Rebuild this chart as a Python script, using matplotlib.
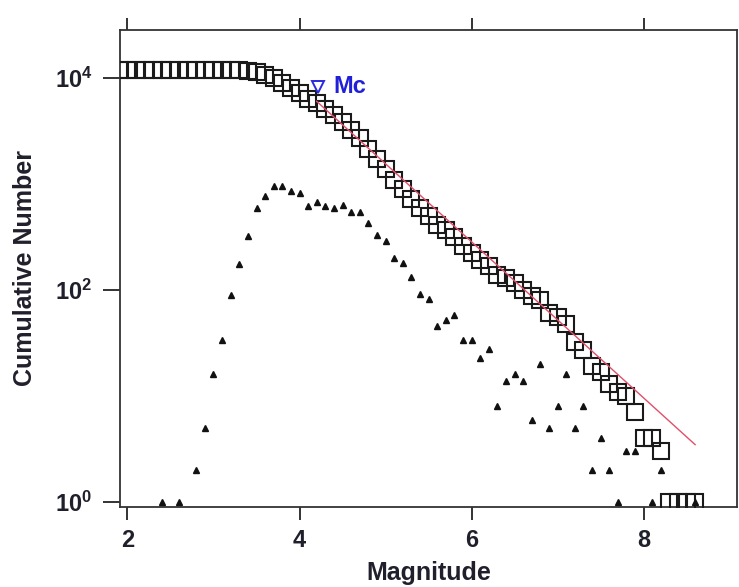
import matplotlib
matplotlib.use("Agg")
import matplotlib.pyplot as plt

plt.rcParams['font.family'] = ['Liberation Sans', 'DejaVu Sans']
plt.rcParams['mathtext.fontset'] = 'custom'
plt.rcParams['mathtext.rm'] = 'Liberation Sans'
plt.rcParams['mathtext.bf'] = 'Liberation Sans:bold'

# cumulative number of events N(>=M)
cum_mag = [1.9, 2.0, 2.1, 2.2, 2.3, 2.4, 2.5, 2.6, 2.7, 2.8, 2.9, 3.0, 3.1, 3.2,
           3.3, 3.4, 3.5, 3.6, 3.7, 3.8, 3.9, 4.0, 4.1, 4.2, 4.3, 4.4, 4.5, 4.6,
           4.7, 4.8, 4.9, 5.0, 5.1, 5.2, 5.3, 5.4, 5.5, 5.6, 5.7, 5.8, 5.9, 6.0,
           6.1, 6.2, 6.3, 6.4, 6.5, 6.6, 6.7, 6.8, 6.9, 7.0, 7.1, 7.2, 7.3, 7.4,
           7.5, 7.6, 7.7, 7.8, 7.9, 8.0, 8.1, 8.2, 8.3, 8.4, 8.5, 8.6]
cum_n = [12020, 12020, 12020, 12020, 12020, 12020, 12019, 12019, 12018, 12018,
         12016, 12011, 11995, 11961, 11871, 11694, 11372, 10772, 9996, 9041,
         8086, 7221, 6401, 5781, 5101, 4481, 3881, 3251, 2701, 2151, 1721, 1391,
         1101, 901, 723, 589, 497, 414, 368, 316, 258, 224, 190, 167, 139, 131,
         117, 101, 87, 81, 61, 56, 48, 32, 27, 19, 17, 13, 11, 10, 7, 4, 4, 3,
         1, 1, 1, 1]

# non-cumulative number per 0.1 bin
bin_mag = [2.4, 2.6, 2.8, 2.9, 3.0, 3.1, 3.2, 3.3, 3.4, 3.5, 3.6, 3.7, 3.8, 3.9,
           4.0, 4.1, 4.2, 4.3, 4.4, 4.5, 4.6, 4.7, 4.8, 4.9, 5.0, 5.1, 5.2, 5.3,
           5.4, 5.5, 5.6, 5.7, 5.8, 5.9, 6.0, 6.1, 6.2, 6.3, 6.4, 6.5, 6.6, 6.7,
           6.8, 6.9, 7.0, 7.1, 7.2, 7.3, 7.4, 7.5, 7.6, 7.7, 7.8, 7.9, 8.1, 8.2,
           8.6]
bin_n = [1, 1, 2, 5, 16, 34, 90, 177, 322, 600, 776, 955, 955, 865, 820, 620,
         680, 620, 600, 630, 550, 550, 430, 330, 290, 200, 178, 134, 92, 83, 46,
         52, 58, 34, 34, 23, 28, 8, 14, 16, 14, 6, 20, 5, 8, 16, 5, 8, 2, 4, 2, 1,
         3, 3, 1, 2, 1]

# Gutenberg-Richter fit log10 N = a - b M
fit_a = 6.871
fit_b = 0.736
fit_range = [4.2, 8.6]
mc = 4.22
mc_n = 8300

fig = plt.figure(figsize=(7.39, 5.87), dpi=100)
ax = fig.add_axes([0.1624, 0.1363, 0.8349, 0.8126])

ax.semilogy(cum_mag, cum_n, 's', mfc='none', mec='#1a1a1a', ms=11, mew=1.5, zorder=3)
ax.semilogy(bin_mag, bin_n, '^', color='#111111', ms=5, zorder=3)
ax.semilogy(fit_range, [10 ** (fit_a - fit_b * m) for m in fit_range],
            color='#e0506a', lw=1.0, zorder=4)
ax.semilogy([mc], [mc_n], 'v', mfc='white', mec='#2a2ae0', ms=9, mew=1.4, zorder=5)
ax.text(mc + 0.17, mc_n, 'Mc', color='#2020d8', fontsize=17, fontweight='bold',
        va='center', ha='left')

ax.set_xlim(1.913, 9.087)
ax.set_ylim(10 ** -0.047, 10 ** 4.453)
ax.set_xticks([2, 4, 6, 8])
ax.set_xticklabels(['2', '4', '6', '8'])
ax.set_yticks([1, 100, 10000])
ax.set_yticklabels([r'$\mathbf{10^0}$', r'$\mathbf{10^2}$', r'$\mathbf{10^4}$'])
ax.minorticks_off()

txt = '#20202c'
ax.tick_params(axis='x', direction='out', length=9, width=1.4, pad=7,
               labelsize=17, colors='#333333', labelcolor=txt, top=True)
ax.tick_params(axis='y', direction='out', length=12, width=1.4, pad=8,
               labelsize=17, colors='#333333', labelcolor=txt)
for lab in ax.get_xticklabels():
    lab.set_fontweight('bold')
for s in ax.spines.values():
    s.set_linewidth(1.3)
    s.set_color('#333333')

ax.set_xlabel('Magnitude', fontsize=18, fontweight='bold', color=txt, labelpad=6)
ax.set_ylabel('Cumulative Number', fontsize=18, fontweight='bold', color=txt, labelpad=13)

fig.savefig('out.png', dpi=100)
